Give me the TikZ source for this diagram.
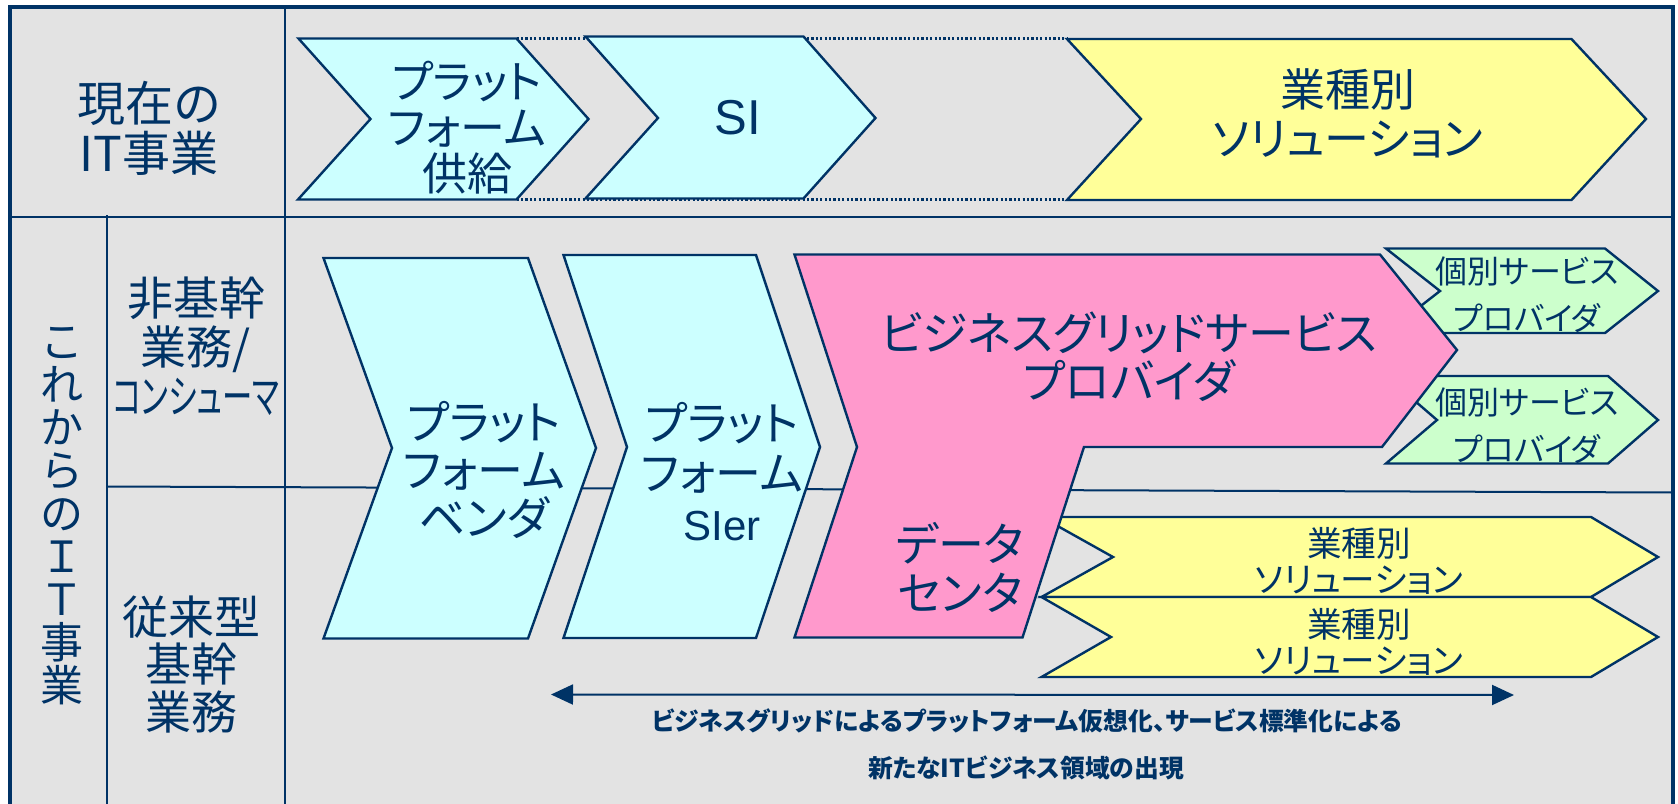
\documentclass[tikz,border=0pt]{standalone}
\usepackage{fontspec}
\usepackage{graphicx}
\setmainfont{Noto Sans CJK JP}[RawFeature=+palt]
\newfontfamily\latinfont{Liberation Sans}
\usetikzlibrary{arrows.meta}
\definecolor{navy}{RGB}{0,51,102}
\definecolor{bggray}{RGB}{227,227,227}
\definecolor{cyanfill}{RGB}{204,255,255}
\definecolor{yellowfill}{RGB}{255,255,153}
\definecolor{pinkfill}{RGB}{255,153,204}
\definecolor{greenfill}{RGB}{204,255,204}
\tikzset{
  frameline/.style={draw=navy, line width=1.8pt},
  gridline/.style={draw=navy, line width=1pt},
  shapeline/.style={draw=navy, line width=1.2pt, line join=miter},
  cyanshape/.style={shapeline, fill=cyanfill},
  yellowshape/.style={shapeline, fill=yellowfill},
  pinkshape/.style={shapeline, fill=pinkfill},
  greenshape/.style={shapeline, fill=greenfill},
  dotline/.style={draw=navy, line width=1.2pt, dash pattern=on 1.1pt off 1.1pt},
  lbl/.style={text=navy, align=center, inner sep=0pt},
  fbig/.style={font=\fontsize{23}{24}\selectfont},
  fgreen/.style={font=\fontsize{16}{23.5}\selectfont},
  fyellow/.style={font=\fontsize{17.3}{18}\selectfont},
  fbottom/.style={font=\bfseries\fontsize{12.4}{12.4}\selectfont},
  dblarrow/.style={draw=navy, line width=1pt, {Triangle[length=11pt,width=10pt]}-{Triangle[length=11pt,width=10pt]}}
}
\begin{document}
\begin{tikzpicture}[x=0.5pt,y=-0.5pt]
\useasboundingbox (0,0) rectangle (1678,804);
\fill[white] (0,0) rectangle (1678,804);
\fill[bggray] (10,7) rectangle (1673,804);
% table lines
\draw[gridline] (284.5,8) -- (284.5,804);
\draw[gridline, line width=1.2pt] (10,217) -- (1673,217);
\draw[gridline] (107,215) -- (107,804);
\draw[gridline] (107,486.5) -- (1673,492.5);
\draw[frameline] (10,804) -- (10,7) -- (1673,7) -- (1673,804);
% top row dotted guides
\coordinate (d1t) at (516.5,38.5);
\coordinate (d2t) at (1067,38.5);
\coordinate (d1b) at (516.5,199.5);
\coordinate (d2b) at (1067,199.5);
\draw[dotline] (d1t) -- (d2t);
\draw[dotline] (d1b) -- (d2b);
% top row chevrons
\path[cyanshape] (298.5,38.5) -- (516.5,38.5) -- (588.5,119) -- (516.5,199.5) -- (298,199.5) -- (370.5,119) -- cycle;
\path[cyanshape] (585.5,36.5) -- (803.5,36.5) -- (875.5,118) -- (803.5,198.5) -- (585.5,198.5) -- (658,118) -- cycle;
\path[yellowshape] (1067,39) -- (1571.5,39) -- (1646,119) -- (1571.5,200) -- (1067,200) -- (1141,119) -- cycle;
% lower shapes
\path[cyanshape] (323.5,258) -- (528,258) -- (596,448) -- (528,638.5) -- (323.5,638.5) -- (392,448) -- cycle;
\path[cyanshape] (563.5,255) -- (756,255) -- (820,447) -- (756,638) -- (563.5,638) -- (627,447) -- cycle;
\path[greenshape] (1386,248.5) -- (1605,248.5) -- (1658,291) -- (1605,333) -- (1386,333) -- (1440,291) -- cycle;
\path[greenshape] (1386,376) -- (1608,376) -- (1658,420) -- (1608,463.5) -- (1386,463.5) -- (1437,420) -- cycle;
\path[yellowshape] (1041.5,517) -- (1591,517) -- (1658,557) -- (1591,597) -- (1041.5,597) -- (1113,557) -- cycle;
\path[yellowshape] (1041.5,597) -- (1591,597) -- (1658,637) -- (1591,677) -- (1041.5,677) -- (1111,637) -- cycle;
\path[pinkshape] (794.5,254.5) -- (1380,254.5) -- (1457,350) -- (1382,447) -- (1084,447) -- (1022.5,637.5) -- (794.5,637.5) -- (857,447) -- cycle;
% labels
\node[lbl, font=\fontsize{24}{25}\selectfont] (nowit) at (149,128.5) {現在の\\IT事業};
\node[lbl, font=\fontsize{22.5}{23}\selectfont] (c1t) at (467,127.5) {プラット\\フォーム\\供給};
\node[lbl, font=\latinfont\fontsize{24.5}{24.5}\selectfont] (c2t) at (737.5,118) {SI};
\node[lbl, font=\fontsize{22.5}{24.5}\selectfont] (c3t) at (1348,113.5) {業種別\\ソリューション};
\node[lbl, font=\fontsize{21.5}{21.5}\selectfont] (future) at (62,516.5) {こ\\れ\\か\\ら\\の\\Ｉ\\Ｔ\\事\\業};
\node[lbl, font=\fontsize{23}{24.5}\selectfont] (noncore) at (196,346) {非基幹\\業務/\\\scalebox{0.66}[1]{コンシューマ}};
\node[lbl, font=\fontsize{23}{23.75}\selectfont] (legacy) at (191,664.5) {従来型\\基幹\\業務};
\node[lbl, fbig] (vendor) at (484,470) {プラット\\フォーム\\ベンダ};
\node[lbl, font=\fontsize{23}{25}\selectfont] (sier) at (722,472) {プラット\\フォーム\\{\latinfont\fontsize{21}{25}\selectfont SIer}};
\node[lbl, fbig] (bgsp) at (1129,357) {ビジネスグリッドサービス\\プロバイダ};
\node[lbl, font=\fontsize{23}{24.5}\selectfont] (dc) at (960,567.5) {データ\\センタ};
\node[lbl, fgreen] (g1t) at (1527,294.5) {個別サービス\\プロバイダ};
\node[lbl, fgreen] (g2t) at (1527,425.5) {個別サービス\\プロバイダ};
\node[lbl, fyellow] (y1t) at (1359,561) {業種別\\ソリューション};
\node[lbl, fyellow] (y2t) at (1359,641.5) {業種別\\ソリューション};
% arrow
\coordinate (aL) at (551,694.5);
\coordinate (aR) at (1514,695);
\draw[dblarrow] (aL) -- (aR);
\node[lbl, fbottom] (b1) at (1027,721) {ビジネスグリッドによるプラットフォーム仮想化、サービス標準化による};
\node[lbl, fbottom] (b2) at (1026,768) {新たなITビジネス領域の出現};
\end{tikzpicture}
\end{document}
